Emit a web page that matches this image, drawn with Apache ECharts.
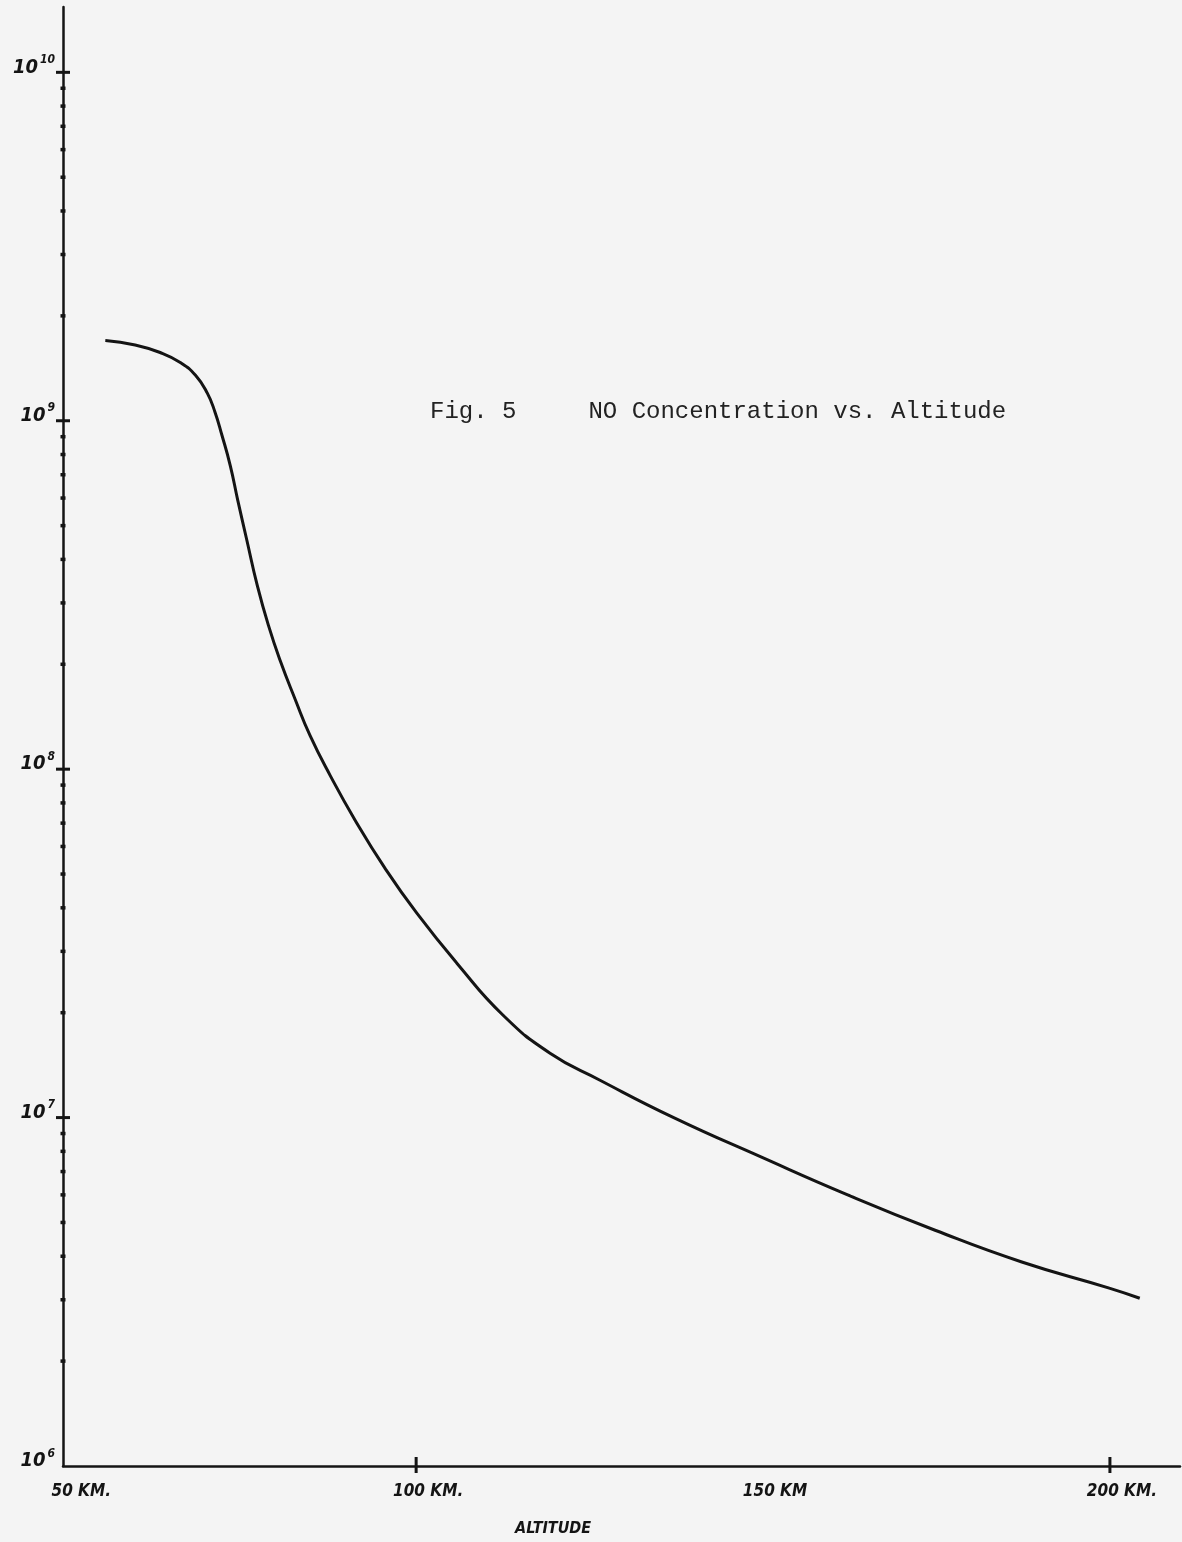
<!DOCTYPE html>
<html>
<head>
<meta charset="utf-8">
<script src="https://cdn.jsdelivr.net/npm/echarts@6/dist/echarts.min.js"></script>
<style>
  html, body { margin: 0; padding: 0; background: #f4f4f4; }
  #chart { width: 1182px; height: 1542px; }
</style>
</head>
<body>
<div id="chart"></div>
<script>
// ---- data ----
const altitudeKm = [55.2, 59.5, 63.1, 66.0, 68.2, 69.9, 71.0, 72.0, 73.2, 74.3, 75.6, 77.1, 78.7, 80.4, 82.6, 84.7, 87.6, 91.2, 95.5, 100.1, 105.9, 112.5, 119.3, 126.5, 137.2, 149.7, 162.2, 174.8, 187.3, 199.9, 204.3];
const noConcentration = [1.70e9, 1.65e9, 1.57e9, 1.47e9, 1.35e9, 1.20e9, 1.06e9, 9.1e8, 7.45e8, 5.9e8, 4.54e8, 3.37e8, 2.59e8, 2.05e8, 1.58e8, 1.25e8, 9.6e7, 7.14e7, 5.2e7, 3.86e7, 2.77e7, 1.97e7, 1.53e7, 1.28e7, 9.98e6, 7.71e6, 6.0e6, 4.75e6, 3.85e6, 3.24e6, 3.03e6];

const xTickValues = [100, 200];
const xLabelValues = [50, 100, 150, 200];
const xLabelTexts = ['50 KM.', '100 KM.', '150 KM', '200 KM.'];
const yMajorTicks = [1e7, 1e8, 1e9, 1e10];
const yMinorTicks = [];
[1e6, 1e7, 1e8, 1e9].forEach(function (d) { [2,3,4,5,6,7,8,9].forEach(function (m) { yMinorTicks.push(m * d); }); });

const titleText = 'Fig. 5     NO Concentration vs. Altitude';
const xAxisTitle = 'ALTITUDE';

const X_MIN = 49.1, X_MAX = 210.1;
const Y_MIN = 1e6, Y_MAX = 1.54e10;

const hand = "'DejaVu Sans Condensed', 'Liberation Sans Narrow', 'DejaVu Sans', sans-serif";
const ink = '#141414';

const chart = echarts.init(document.getElementById('chart'), null, { renderer: 'canvas' });

function yTickRender(len, width) {
  return function (params, api) {
    const p = api.coord([X_MIN, api.value(1)]);
    const x0 = params.coordSys.x;
    return { type: 'line', shape: { x1: x0 - len / 2, y1: p[1], x2: x0 + len / 2, y2: p[1] },
             style: { stroke: ink, lineWidth: width } };
  };
}

chart.setOption({
  backgroundColor: '#f4f4f4',
  animation: false,
  title: [
    { text: titleText, left: 425, top: 395,
      textStyle: { fontFamily: "'Liberation Mono', 'DejaVu Sans Mono', monospace", fontSize: 24, fontWeight: 'normal', color: '#222' } },
    { text: xAxisTitle, left: 510, top: 1516,
      textStyle: { fontFamily: hand, fontSize: 16, fontWeight: 'bold', fontStyle: 'italic', color: ink } }
  ],
  grid: { left: 63, right: 2, top: 7, bottom: 76, containLabel: false },
  xAxis: {
    type: 'value', min: X_MIN, max: X_MAX,
    axisLine: { show: true, lineStyle: { color: ink, width: 2.5 } },
    axisTick: { show: false }, axisLabel: { show: false }, splitLine: { show: false }
  },
  yAxis: {
    type: 'log', logBase: 10, min: Y_MIN, max: Y_MAX,
    axisLine: { show: true, lineStyle: { color: ink, width: 2.5 } },
    axisTick: { show: false }, splitLine: { show: false }, minorTick: { show: false },
    axisLabel: {
      show: true, margin: 8, padding: [0, 0, 10, 0],
      formatter: function (v) {
        const l = Math.log10(v), e = Math.round(l);
        if (Math.abs(l - e) > 1e-6) return '';
        return '{b|10}{s|' + e + '}';
      },
      rich: {
        b: { fontFamily: hand, fontSize: 20, fontWeight: 'bold', fontStyle: 'italic', color: ink },
        s: { fontFamily: hand, fontSize: 12, fontWeight: 'bold', fontStyle: 'italic', color: ink, padding: [0, 0, 15, 2] }
      }
    }
  },
  series: [
    {
      type: 'line', name: 'NO', smooth: 0.5, symbol: 'none',
      data: altitudeKm.map(function (x, i) { return [x, noConcentration[i]]; }),
      lineStyle: { color: ink, width: 3 }
    },
    {
      type: 'custom', silent: true,
      data: yMinorTicks.map(function (v) { return [X_MIN, v]; }),
      renderItem: yTickRender(5, 3.5)
    },
    {
      type: 'custom', silent: true,
      data: yMajorTicks.map(function (v) { return [X_MIN, v]; }),
      renderItem: yTickRender(14, 3)
    },
    {
      type: 'custom', silent: true,
      data: xTickValues.map(function (v) { return [v, Y_MIN]; }),
      renderItem: function (params, api) {
        const p = api.coord([api.value(0), Y_MIN]);
        return { type: 'line', shape: { x1: p[0], y1: p[1] - 9, x2: p[0], y2: p[1] + 7 },
                 style: { stroke: ink, lineWidth: 3 } };
      }
    },
    {
      type: 'custom', silent: true,
      data: xLabelValues.map(function (v) { return [v, Y_MIN]; }),
      renderItem: function (params, api) {
        const p = api.coord([api.value(0), Y_MIN]);
        return { type: 'text', x: p[0] + 12, y: p[1] + 26,
                 style: { text: xLabelTexts[params.dataIndex], fill: ink, align: 'center', verticalAlign: 'middle',
                          font: 'italic bold 17px ' + hand } };
      }
    }
  ]
});
</script>
</body>
</html>
